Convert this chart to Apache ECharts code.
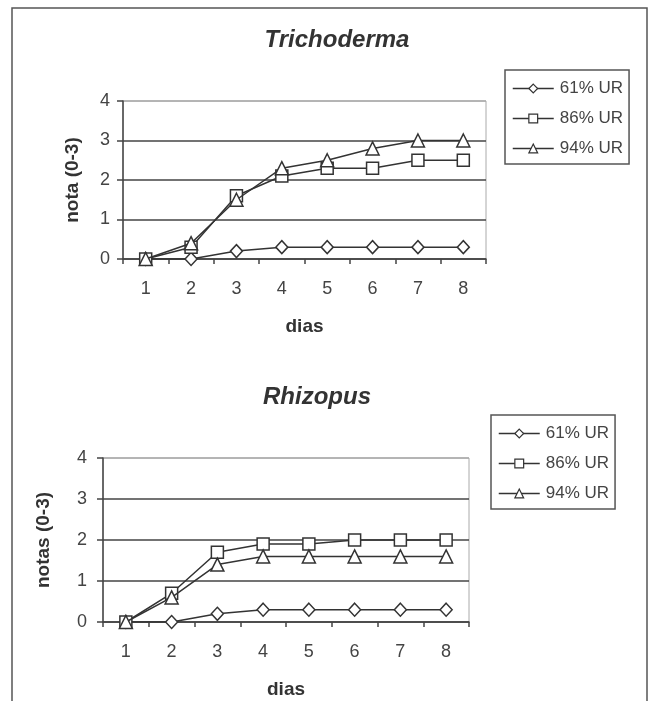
<!DOCTYPE html>
<html>
<head>
<meta charset="utf-8">
<script src="https://cdn.jsdelivr.net/npm/echarts@6/dist/echarts.min.js"></script>
<style>
html,body{margin:0;padding:0;background:#fff;}
#c{width:651px;height:701px;}
</style>
</head>
<body>
<div id="c"></div>
<script>
// ---- data ----
const days = ['1', '2', '3', '4', '5', '6', '7', '8'];
const seriesNames = ['61% UR', '86% UR', '94% UR'];
const yTicks = [0, 1, 2, 3, 4];
// Trichoderma
const tri61 = [0, 0, 0.2, 0.3, 0.3, 0.3, 0.3, 0.3];
const tri86 = [0, 0.3, 1.6, 2.1, 2.3, 2.3, 2.5, 2.5];
const tri94 = [0, 0.4, 1.5, 2.3, 2.5, 2.8, 3.0, 3.0];
// Rhizopus
const rhi61 = [0, 0, 0.2, 0.3, 0.3, 0.3, 0.3, 0.3];
const rhi86 = [0, 0.7, 1.7, 1.9, 1.9, 2.0, 2.0, 2.0];
const rhi94 = [0, 0.6, 1.4, 1.6, 1.6, 1.6, 1.6, 1.6];

const FONT = 'Liberation Sans, Arial, sans-serif';
const DARK = '#333';
const symbols = ['diamond', 'rect', 'triangle'];
const symbolSizes = [[12, 13], 12, 13];

const chart = echarts.init(document.getElementById('c'), null, {renderer: 'canvas'});

function xAxis(gridIndex) {
  return {
    type: 'category', gridIndex: gridIndex, data: days, boundaryGap: true,
    name: 'dias', nameLocation: 'middle', nameGap: 58,
    nameTextStyle: {fontFamily: FONT, fontSize: 19, fontWeight: 'bold', color: DARK},
    axisLine: {show: true, lineStyle: {color: '#444', width: 1.5}},
    axisTick: {show: true, inside: false, length: 5, alignWithLabel: false, lineStyle: {color: '#444', width: 1.5}},
    axisLabel: {fontFamily: FONT, fontSize: 18, color: '#444', margin: 21},
    splitLine: {show: false}
  };
}
function yAxis(gridIndex, name, nameGap, labelMargin) {
  return {
    type: 'value', gridIndex: gridIndex, min: yTicks[0], max: yTicks[yTicks.length - 1], interval: 1,
    name: name, nameLocation: 'middle', nameGap: nameGap,
    nameTextStyle: {fontFamily: FONT, fontSize: 19, fontWeight: 'bold', color: DARK},
    axisLine: {show: true, lineStyle: {color: '#444', width: 1.5}},
    axisTick: {show: true, inside: false, length: 6, lineStyle: {color: '#444', width: 1.5}},
    axisLabel: {fontFamily: FONT, fontSize: 18, color: '#444', margin: labelMargin},
    splitLine: {show: true, lineStyle: {color: ['#444', '#444', '#444', '#444', '#aaa'], width: 1.5}}
  };
}
function lineSeries(name, data, idx, axisIndex) {
  return {
    type: 'line', name: name, data: data,
    xAxisIndex: axisIndex, yAxisIndex: axisIndex,
    symbol: symbols[idx], symbolSize: symbolSizes[idx],
    showAllSymbol: true,
    lineStyle: {color: DARK, width: 1.5},
    itemStyle: {color: '#fff', borderColor: DARK, borderWidth: 1.5},
    emphasis: {disabled: true},
    animation: false, z: 3 + idx
  };
}
function legend(left, top) {
  return {
    orient: 'vertical', left: left, top: top, data: seriesNames,
    itemWidth: 41, itemHeight: 11, itemGap: 13,
    padding: [10, 6, 7, 7],
    borderColor: '#555', borderWidth: 1.5, backgroundColor: '#fff',
    selectedMode: false,
    textStyle: {fontFamily: FONT, fontSize: 17, color: '#444', lineHeight: 17, padding: [0, 0, 0, 1]},
    lineStyle: {color: DARK, width: 1.5},
    itemStyle: {color: '#fff', borderColor: DARK, borderWidth: 1.2}
  };
}

const option = {
  animation: false,
  backgroundColor: '#fff',
  grid: [
    {left: 123, top: 101, width: 363, height: 158, show: true, borderColor: '#aaa', borderWidth: 1, backgroundColor: 'transparent'},
    {left: 103, top: 458, width: 366, height: 164, show: true, borderColor: '#aaa', borderWidth: 1, backgroundColor: 'transparent'}
  ],
  xAxis: [xAxis(0), xAxis(1)],
  yAxis: [yAxis(0, 'nota (0-3)', 41, 13), yAxis(1, 'notas (0-3)', 50, 16)],
  legend: [legend(505, 70), legend(491, 415)],
  graphic: [
    {type: 'rect', shape: {x: 12, y: 8, width: 635, height: 720}, style: {fill: 'none', stroke: '#555', lineWidth: 1.5}, silent: true, z: -1},
    {type: 'text', x: 337, y: 40, style: {text: 'Trichoderma', fontFamily: FONT, fontSize: 24, fontWeight: 'bold', fontStyle: 'italic', fill: '#333', align: 'center', verticalAlign: 'middle'}},
    {type: 'text', x: 317, y: 397, style: {text: 'Rhizopus', fontFamily: FONT, fontSize: 24, fontWeight: 'bold', fontStyle: 'italic', fill: '#333', align: 'center', verticalAlign: 'middle'}}
  ],
  series: [
    lineSeries(seriesNames[0], tri61, 0, 0),
    lineSeries(seriesNames[1], tri86, 1, 0),
    lineSeries(seriesNames[2], tri94, 2, 0),
    lineSeries(seriesNames[0], rhi61, 0, 1),
    lineSeries(seriesNames[1], rhi86, 1, 1),
    lineSeries(seriesNames[2], rhi94, 2, 1)
  ]
};
chart.setOption(option);
</script>
</body>
</html>
